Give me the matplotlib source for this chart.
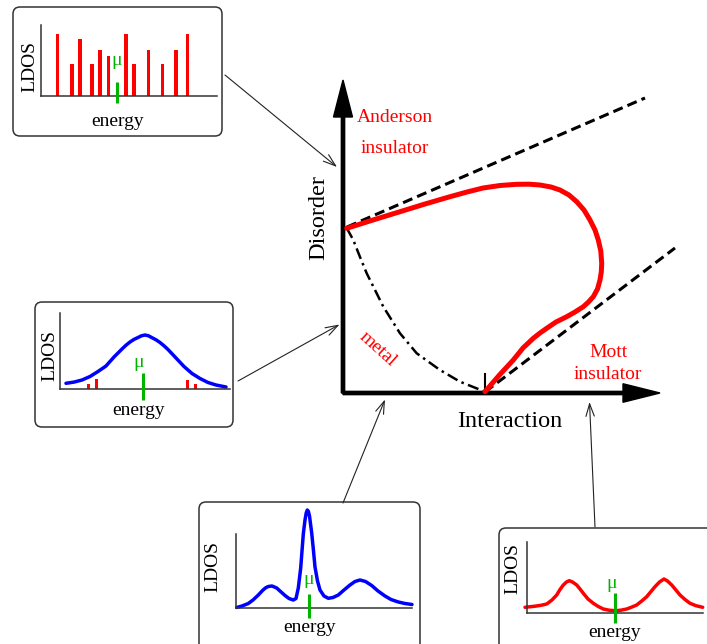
import numpy as np
import matplotlib.pyplot as plt
from matplotlib.patches import FancyBboxPatch

plt.rcParams['font.family'] = ['Liberation Serif', 'DejaVu Serif']

W_PX, H_PX = 707, 644
RED, BLUE, GREEN = '#ff0000', '#0000ff', '#00b400'

#%% phase diagram data (interaction U, disorder W), arb. units
boundary_U = [0.037, 0.30, 0.57, 0.82, 1.07, 1.24, 1.40, 1.57, 1.737, 1.86, 1.97, 2.08,
              2.17, 2.26, 2.337, 2.41, 2.47, 2.52, 2.553, 2.578, 2.587, 2.583, 2.57,
              2.545, 2.503, 2.455, 2.403, 2.32, 2.237, 2.13, 2.037, 1.97, 1.903, 1.80,
              1.703, 1.56, 1.42]
boundary_W = [1.647, 1.73, 1.813, 1.89, 1.963, 2.01, 2.05, 2.075, 2.087, 2.088, 2.08, 2.06,
              2.03, 1.98, 1.913, 1.83, 1.73, 1.63, 1.53, 1.42, 1.297, 1.21, 1.13,
              1.04, 0.963, 0.91, 0.863, 0.81, 0.763, 0.71, 0.647, 0.60, 0.547, 0.45,
              0.33, 0.175, 0.013]

anderson_asym_U = [0.04, 3.02]
anderson_asym_W = [1.66, 2.95]
mott_asym_U = [1.42, 3.32]
mott_asym_W = [0.01, 1.45]

metal_U = [0.037, 0.103, 0.17, 0.237, 0.403, 0.57, 0.737, 0.97, 1.17, 1.42]
metal_W = [1.65, 1.53, 1.36, 1.197, 0.863, 0.597, 0.397, 0.23, 0.113, 0.013]

Uc_mott = 1.42

#%% LDOS insets data (energy, LDOS), arb. units
# Anderson insulator: discrete levels
anderson_E = [16.3, 30.7, 39, 50.7, 59, 67.3, 84.7, 93, 107.3, 121.3, 135, 146.7]
anderson_D = [62.3, 31.7, 57, 31.7, 45.7, 40, 62.3, 31.7, 45.7, 31.7, 45.7, 62.3]
anderson_mu = 75.7

# metal: broad band with a few localized states in the tails
metal_E = [6, 14, 22, 30, 38, 46, 54, 62, 66, 70, 74, 78, 81.5, 85, 88.5, 92, 96, 100,
           104, 108, 116, 124, 132, 140, 148, 156, 166]
metal_D = [5.7, 6.9, 9.0, 12.5, 17.5, 23, 32, 40, 43.8, 47, 49.6, 51.5, 53.2, 54, 53.2,
           51.3, 49.2, 46.5, 43.2, 39.5, 31, 22.5, 15.5, 10.5, 6.5, 4, 2]
metal_tail_E = [28.3, 36.7, 127.3, 135.7]
metal_tail_D = [5.3, 10.3, 8.7, 5.3]
metal_mu = 83.3

# correlated metal: quasiparticle peak + Hubbard bands
corr_E = [0.7, 6, 12.3, 17, 22.3, 27, 29.8, 32.3, 36, 40.7, 44, 49, 53, 57.3, 60, 62.3,
          64.7, 66, 67.3, 69, 70.2, 71.3, 72.4, 73.5, 75.7, 77.5, 79, 81.5, 84, 88, 92.3,
          97, 102.3, 108, 114, 119, 124, 129.5, 135.7, 142, 149, 155, 162.3, 169, 176]
corr_D = [0.5, 2, 4.5, 8, 13, 18, 20.3, 21.5, 22, 20, 17, 12.5, 9.5, 8, 9.5, 20,
          40, 57, 74, 88, 95, 98, 96.5, 92, 75, 57, 41, 27, 18, 12, 9.7,
          10.5, 13, 18, 23, 26.5, 28, 26.5, 22.5, 17, 12, 8.5, 6, 4.5, 3.5]
corr_mu = 73.3

# Mott insulator: two Hubbard bands, gap at mu
mott_E = [-2, 8, 14, 19.7, 25, 29.7, 33, 36.3, 39.5, 42.3, 45.5, 49.7, 53, 56.3, 61,
          66.3, 71.3, 76.3, 82, 88, 94, 99.7, 104.5, 109.7, 114.5, 119.7, 124, 128,
          132.5, 137, 140.5, 144.7, 148.5, 153, 158, 163, 169, 175.7]
mott_D = [5.7, 6.8, 7.7, 9, 13, 18, 23.5, 28, 31, 32.3, 31, 28, 24, 19.7, 14,
          9.7, 6.5, 4, 2.8, 2.3, 2.8, 4, 5.8, 8, 11.8, 16.3, 21.5, 26.3,
          31, 34, 32, 28, 23.5, 18, 13.5, 9.7, 7.3, 5.7]
mott_mu = 88


def px_axes(fig, x0, y0, w, h):
    """axes whose origin is at pixel (x0, y0) measured from the top-left"""
    ax = fig.add_axes([x0 / W_PX, (H_PX - y0) / H_PX, w / W_PX, h / H_PX])
    ax.set_facecolor('none')
    ax.set_xlim(0, w)
    ax.set_ylim(0, h)
    for s in ['top', 'right']:
        ax.spines[s].set_visible(False)
    for s in ['left', 'bottom']:
        ax.spines[s].set_color('#333333')
        ax.spines[s].set_linewidth(1.1)
    ax.set_xticks([])
    ax.set_yticks([])
    return ax


def mu_tick(ax, mu, lo, hi):
    ax.plot([mu, mu], [lo, hi], color=GREEN, lw=2.2, clip_on=False,
            solid_capstyle='butt', zorder=5)


def ldos_line(ax, e, d, color):
    ax.plot(e, d, color=color, lw=2.5, clip_on=False,
            solid_joinstyle='round', solid_capstyle='round')


fig = plt.figure(figsize=(W_PX / 100, H_PX / 100), dpi=100)

# background canvas in pixel coordinates for boxes, labels and pointers
cv = fig.add_axes([0, 0, 1, 1])
cv.set_xlim(0, W_PX)
cv.set_ylim(H_PX, 0)
cv.set_axis_off()

boxes = [(13, 7, 209, 129), (35, 302, 198, 125), (199, 502, 221, 200), (499, 528, 260, 200)]
for x, y, w, h in boxes:
    cv.add_patch(FancyBboxPatch((x, y), w, h, boxstyle='round,pad=0,rounding_size=7',
                                fc='white', ec='#333333', lw=1.1))

pointers = [((225, 75), (337, 167)), ((238, 381), (339.5, 324.5)),
            ((343, 503), (385, 399.5)), ((595, 527), (589.5, 402))]
for (x0, y0), (x1, y1) in pointers:
    cv.annotate('', xy=(x1, y1), xytext=(x0, y0),
                arrowprops=dict(arrowstyle='->,head_length=0.9,head_width=0.3',
                                mutation_scale=10, lw=0.8, color='#222222',
                                shrinkA=0, shrinkB=0))

fs = 14
labels = [  # text anchors of LDOS / energy / mu for each inset
    dict(ldos=(30, 66.7), energy=(118, 126), mu=(116.7, 65)),
    dict(ldos=(50, 355), energy=(138.3, 415), mu=(138.3, 366.7)),
    dict(ldos=(213.3, 566.7), energy=(310, 631.7), mu=(308.3, 584.3)),
    dict(ldos=(513.3, 568.3), energy=(615, 636.7), mu=(611.7, 588.3)),
]
for lab in labels:
    cv.text(*lab['ldos'], 'LDOS', rotation=90, ha='center', va='center', fontsize=fs)
    cv.text(*lab['energy'], 'energy', ha='center', va='baseline', fontsize=fs)
    cv.text(*lab['mu'], 'μ', ha='center', va='baseline', fontsize=fs, color=GREEN)

#%% phase diagram
ax = fig.add_axes([343 / W_PX, (H_PX - 393) / H_PX, 320 / W_PX, 320 / H_PX])
ax.set_xlim(0, 3.2)
ax.set_ylim(0, 3.2)
ax.set_axis_off()

ax.arrow(0, 0, 3.17, 0, width=0.033, head_width=0.185, head_length=0.37,
         length_includes_head=True, color='k', clip_on=False)
ax.arrow(0, 0, 0, 3.13, width=0.033, head_width=0.19, head_length=0.37,
         length_includes_head=True, color='k', clip_on=False)

ax.plot(anderson_asym_U, anderson_asym_W, color='k', lw=2.2, ls=(0, (3.3, 1.7)), clip_on=False)
ax.plot(mott_asym_U, mott_asym_W, color='k', lw=2.2, ls=(0, (3.3, 1.7)), clip_on=False)
ax.plot(metal_U, metal_W, color='k', lw=1.8, ls=(0, (4.5, 1.8, 1, 1.8)), clip_on=False)
ax.plot([Uc_mott, Uc_mott], [0, 0.19], color='k', lw=1.5, clip_on=False)
ax.plot(boundary_U, boundary_W, color=RED, lw=3.6, clip_on=False,
        solid_joinstyle='round', solid_capstyle='round', zorder=4)

ax.text(-0.245, 1.75, 'Disorder', rotation=90, ha='center', va='center', fontsize=17.5)
ax.text(1.67, -0.337, 'Interaction', ha='center', va='baseline', fontsize=17.5)
ax.text(0.515, 2.713, 'Anderson', ha='center', va='baseline', fontsize=fs, color=RED)
ax.text(0.515, 2.403, 'insulator', ha='center', va='baseline', fontsize=fs, color=RED)
ax.text(2.653, 0.363, 'Mott', ha='center', va='baseline', fontsize=fs, color=RED)
ax.text(2.653, 0.137, 'insulator', ha='center', va='baseline', fontsize=fs, color=RED)
ax.text(0.343, 0.437, 'metal', rotation=-42, ha='center', va='center', fontsize=fs, color=RED)

#%% insets
a1 = px_axes(fig, 41, 96, 176, 71)
a1.bar(anderson_E, anderson_D, width=3.6, color=RED)
mu_tick(a1, anderson_mu, -7.3, 14.3)

a2 = px_axes(fig, 60, 389, 170, 76)
a2.bar(metal_tail_E, metal_tail_D, width=2.7, color=RED)
ldos_line(a2, metal_E, metal_D, BLUE)
mu_tick(a2, metal_mu, -11, 16.3)

a3 = px_axes(fig, 236, 608, 176, 74)
ldos_line(a3, corr_E, corr_D, BLUE)
mu_tick(a3, corr_mu, -10.3, 13.7)

a4 = px_axes(fig, 527, 613, 176, 71)
ldos_line(a4, mott_E, mott_D, RED)
mu_tick(a4, mott_mu, -10.3, 19.7)

fig.savefig('out.png', dpi=100)
